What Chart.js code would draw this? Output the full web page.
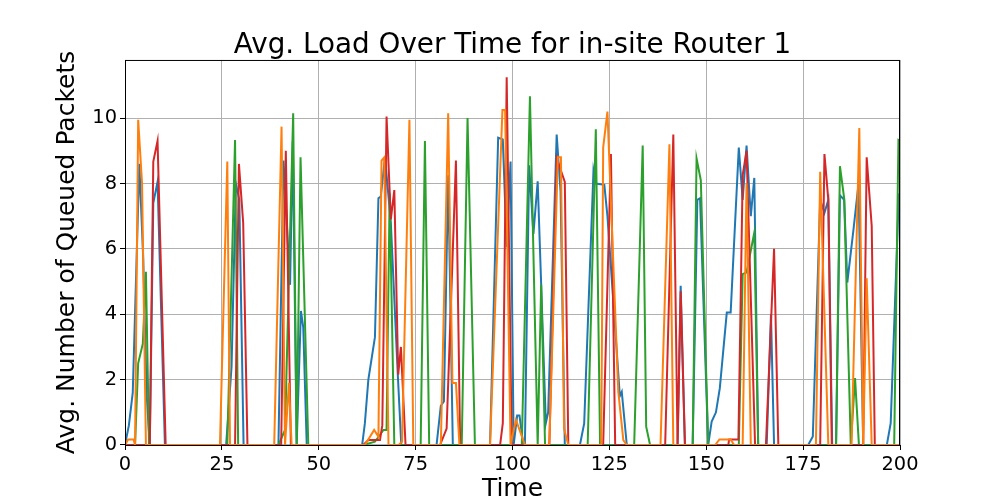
<!DOCTYPE html>
<html>
<head>
<meta charset="utf-8">
<script src="https://cdn.jsdelivr.net/npm/chart.js@4.4.1/dist/chart.umd.min.js"></script>
<style>
  html, body { margin: 0; padding: 0; background: #fff; }
  #wrap { width: 1000px; height: 500px; }
</style>
</head>
<body>
<div id="wrap"><canvas id="chart" width="1000" height="500"></canvas></div>
<script>
// [time, avg queued packets]
const blue = [
  [0,0],[1,0.6],[2,1.6],[3.7,8.6],[4.7,5.7],[5.6,1.5],[6.4,0],[7.3,7.4],[8.4,8.05],[10.3,0],
  [26.1,0],[27.5,2.4],[28.6,8.0],[29.5,7.5],[30.6,0],
  [39.6,0],[40.9,8.7],[42.6,4.9],[43.3,9.3],[44.3,0],[45.4,4.1],[46,3.6],[46.9,0],
  [61.2,0],[61.9,0.66],[62.8,2.0],[64.5,3.3],[65.4,7.55],[66,7.6],[67.1,8.8],[68.6,6.8],[70.4,2.15],[71.3,0],
  [80.4,0],[81.5,1.2],[82.3,1.33],[83.4,8.25],[84.6,0],
  [94.2,0],[96.3,9.4],[97.5,9.35],[98.5,6.05],[99.5,8.67],[100.3,0],[101.2,0.9],[101.8,0.9],[102.8,0],
  [103.2,0],[104.3,8.56],[105.4,6.46],[106.5,8.07],[108.6,0.67],[109.2,1.0],[111.4,9.5],[112.4,7.75],[113.5,0],
  [117.4,0],[118.5,0.66],[120.9,8.4],[121.5,8.0],[123.7,7.96],[124.5,7.0],[127.7,1.5],[128.2,1.63],[129.5,0],
  [142.6,0],[143.4,4.87],[144.5,0],
  [146.5,0],[147.7,7.5],[148.4,7.55],[150.5,0],[151.4,0.72],[152.5,1.0],[153.5,1.74],[155.3,4.05],[156.3,4.05],
  [158.4,9.1],[159.4,7.5],[160.4,9.16],[161.5,7.0],[162.4,8.17],[163.4,0],
  [165.6,0],[166.7,4.0],[167.5,0],
  [176.3,0],[177.5,0.26],[179.4,7.5],[180.5,7.1],[181.5,7.5],[182.5,0],
  [183.5,0],[184.5,7.64],[185.6,7.5],[186.4,4.97],[188,6.6],[189.3,8.0],[190.5,0],
  [196.6,0],[197.6,0.67],[199.7,7.64],[200,7.6]
];
const orange = [
  [0,0],[0.8,0.17],[2.2,0.17],[2.6,0],[3.4,9.95],[4.4,8.0],[5.4,0],
  [24.5,0],[26.4,8.67],[27.1,0],
  [38.5,0],[40.4,9.74],[41.3,0],[42.3,1.9],[43,0],
  [61.9,0],[64.3,0.46],[65.4,0.25],[66.2,8.7],[66.9,8.8],[68,0],
  [70.6,0],[71.5,0.1],[73.4,9.95],[74.4,0],
  [81.5,0],[83.4,10.15],[84.5,1.9],[85.4,1.9],[86.3,0],
  [94.2,0],[97.4,10.25],[98.1,10.25],[99.5,0],[100.9,0.77],[103.2,0],
  [109.5,0],[111.7,8.8],[112.5,8.8],[113.3,0.5],[114.4,0],
  [122.9,0],[123.4,9.1],[124.5,10.2],[127.3,1.63],[128.6,0.15],[129.5,0],
  [138.2,0],[140.5,9.2],[141.5,0],
  [152.3,0],[153.4,0.17],[156.3,0.17],[157.2,0],[159.4,0],[160.4,8.0],[161.5,0],
  [178.3,0],[179.4,8.36],[181.5,0],
  [187.5,0],[189.5,9.7],[190.5,0],[191.4,5.1],[192.7,0],[200,0]
];
const green = [
  [0,0],[2.6,0],[3.4,2.5],[4.6,3.1],[5.4,5.3],[6.2,0],
  [26.4,0],[28.4,9.33],[29.2,0],
  [39.6,0],[41.3,0.46],[43.4,10.15],[44.3,0],[45.3,8.8],[47.3,0],
  [61.5,0],[64.5,0.1],[66.7,0.46],[67.5,0.46],[68.3,7.7],[69.5,0],
  [76.3,0],[77.4,9.3],[78.5,0],
  [86.9,0],[88.4,10.0],[90.3,0],
  [102.4,0],[104.5,10.67],[106.5,0],[107.4,4.9],[108.4,0],
  [119.4,0],[121.5,9.66],[122.6,0],
  [131.4,0],[133.6,9.16],[134.5,0.56],[135.5,0],
  [146.5,0],[147.5,8.77],[148.6,8.1],[150.5,0],
  [158.4,0],[159.4,5.23],[160.4,5.28],[162.4,6.5],[163.4,0],
  [183.5,0],[184.5,8.53],[185.6,7.54],[187.3,0],[188.4,2.05],[189.4,0],
  [198.5,0],[199.6,9.33],[200,9.3]
];
const red = [
  [0,0],[6.4,0],[7.3,8.67],[8.4,9.3],[10.5,0],
  [28.4,0],[29.4,8.6],[30.5,6.8],[31.6,0],
  [40.3,0],[41.5,9.0],[42.8,0],
  [61.5,0],[62.8,0.15],[65.8,0.15],[66.4,0.6],[67.5,10.05],[68.6,6.9],[69.5,7.8],[70.5,2.15],[71.2,3.0],[72.4,0],
  [81.3,0],[83,0.5],[85.4,8.7],[86.5,0],
  [96.8,0],[97.5,0.67],[98.5,11.25],[99.8,0],
  [109.5,0],[111.4,8.77],[113.5,8.05],[114.4,0],
  [123.4,0],[125.4,8.9],[126.5,0],
  [139.4,0],[141.5,9.5],[142.6,0],[143.4,4.7],[144.5,0],
  [155.7,0],[155.9,0.17],[158.3,0.17],[159.4,8.26],[160.4,9.0],[162.6,0],
  [165.4,0],[167.5,6.0],[168.6,0],
  [179.4,0],[180.5,8.9],[181.5,7.5],[182.4,0],
  [190.5,0],[191.4,8.8],[192.7,6.7],[193.5,0],[200,0]
];
const xTicks = [0, 25, 50, 75, 100, 125, 150, 175, 200];
const yTicks = [0, 2, 4, 6, 8, 10];

const FONT = "'DejaVu Sans', sans-serif";

function toPoints(pairs) {
  return pairs.map(([x, y]) => ({ x, y }));
}

function line(pairs, color, order) {
  return {
    data: toPoints(pairs),
    borderColor: color,
    borderWidth: 2,
    pointRadius: 0,
    tension: 0,
    fill: false,
    clip: 0,
    order
  };
}

// black box round the plot area, drawn over the lines like matplotlib spines
const frame = {
  id: "frame",
  afterDatasetsDraw(chart) {
    const { ctx, chartArea: a } = chart;
    ctx.save();
    ctx.strokeStyle = "#000";
    ctx.lineWidth = 1;
    ctx.strokeRect(a.left + 0.5, a.top + 0.5, a.right - a.left - 1, a.bottom - a.top);
    ctx.restore();
  }
};

new Chart(document.getElementById("chart"), {
  type: "line",
  data: {
    datasets: [
      line(blue, "#1f77b4", 3),
      line(orange, "#ff7f0e", 0),
      line(green, "#2ca02c", 2),
      line(red, "#d62728", 1)
    ]
  },
  options: {
    responsive: false,
    animation: false,
    events: [],
    // left 25 + y axis 100 = 125; right spacer axis 100 keeps the title centred on the plot
    layout: { padding: { left: 25, right: 0, top: 0, bottom: 0 } },
    plugins: {
      legend: { display: false },
      tooltip: { enabled: false },
      title: {
        display: true,
        text: "Avg. Load Over Time for in-site Router 1",
        color: "#000",
        font: { family: FONT, size: 27.8, weight: "normal" },
        padding: { top: 29.3, bottom: -2.7 }
      }
    },
    scales: {
      x: {
        type: "linear",
        min: 0,
        max: 200,
        afterFit: s => { s.height = 55; },
        afterBuildTicks: s => { s.ticks = xTicks.map(v => ({ value: v })); },
        ticks: { color: "#000", font: { family: FONT, size: 19.4 }, padding: 3, autoSkip: false, maxRotation: 0 },
        grid: { color: "#b0b0b0", lineWidth: 1, tickColor: "#000", tickLength: 5 },
        border: { display: false },
        title: {
          display: true,
          text: "Time",
          color: "#000",
          font: { family: FONT, size: 25 },
          padding: { top: 0, bottom: -4 }
        }
      },
      y: {
        min: 0,
        max: 11.78,
        afterFit: s => { s.width = 100; },
        afterBuildTicks: s => { s.ticks = yTicks.map(v => ({ value: v })); },
        ticks: { color: "#000", font: { family: FONT, size: 19.4 }, padding: 3 },
        grid: { color: "#b0b0b0", lineWidth: 1, tickColor: "#000", tickLength: 5 },
        border: { display: false },
        title: {
          display: true,
          text: "Avg. Number of Queued Packets",
          color: "#000",
          font: { family: FONT, size: 25 },
          padding: { top: 27.3, bottom: 0 }
        }
      },
      spacer: {
        type: "linear",
        position: "right",
        afterFit: s => { s.width = 100; },
        ticks: { display: false },
        grid: { display: false, drawTicks: false },
        border: { display: false }
      }
    }
  },
  plugins: [frame]
});
</script>
</body>
</html>
